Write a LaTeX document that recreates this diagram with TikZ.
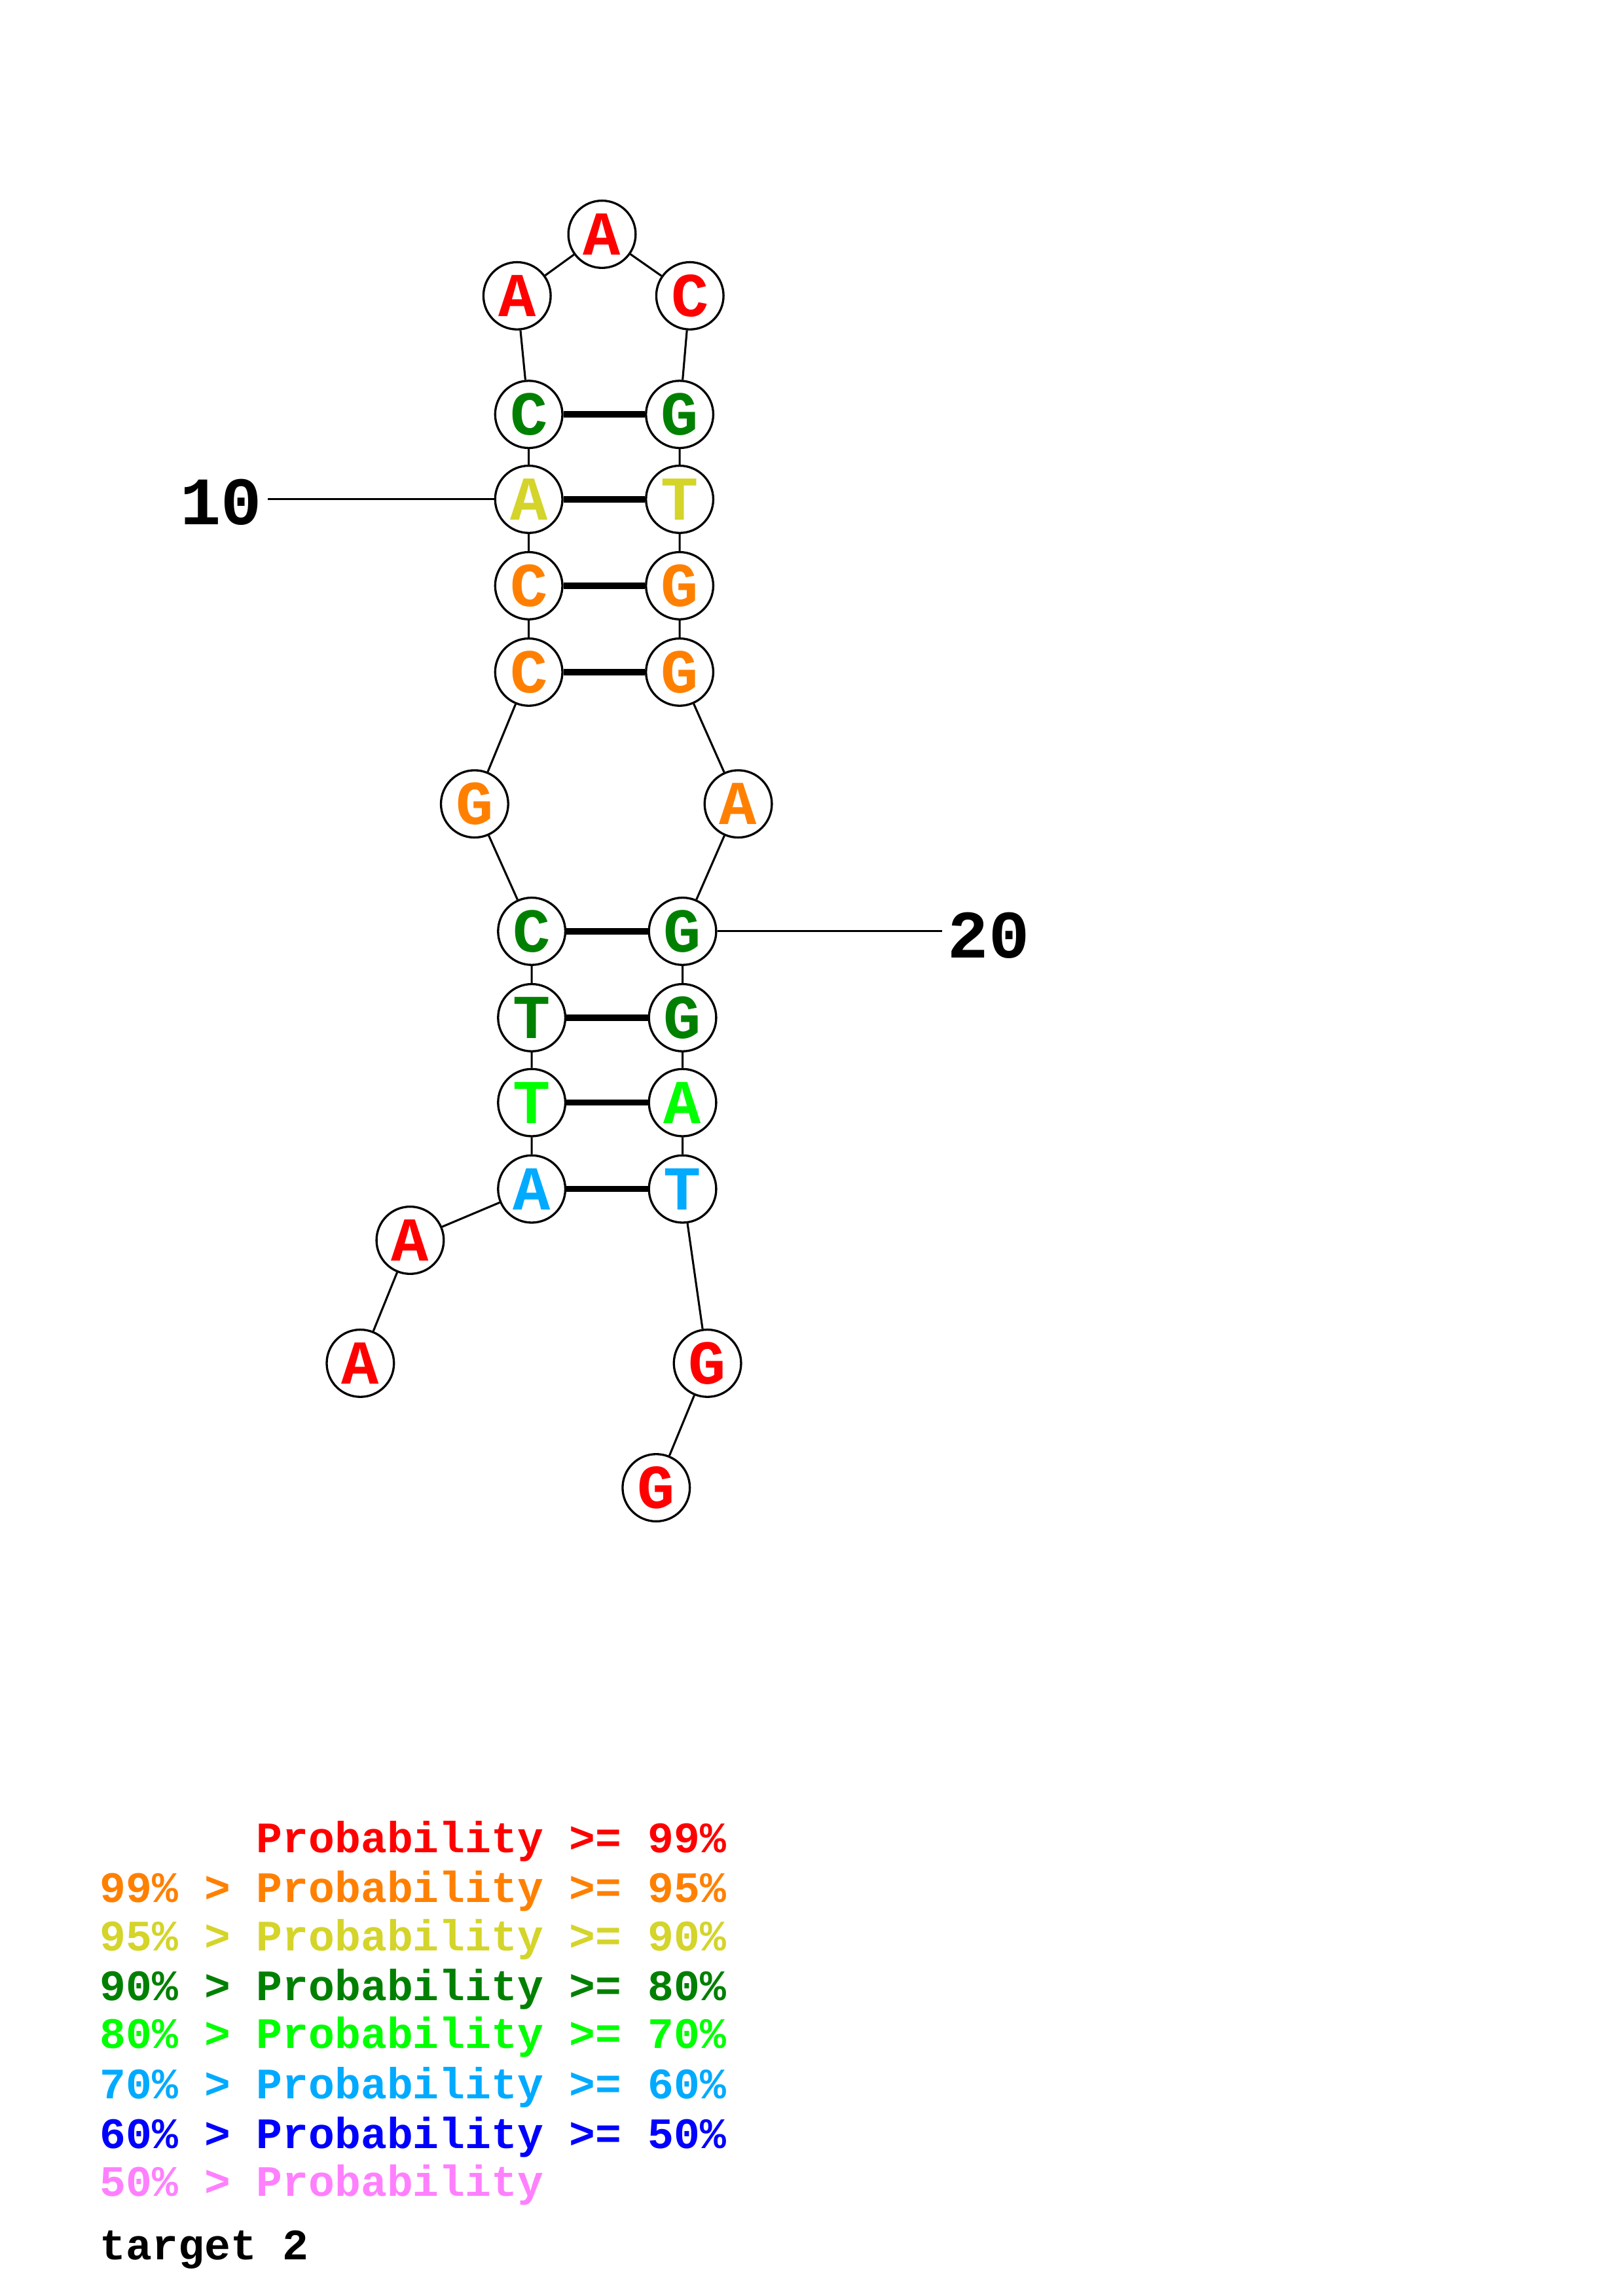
\documentclass[tikz,border=0pt]{standalone}
\usepackage{fontspec}
\setmonofont{Liberation Mono}
\usetikzlibrary{backgrounds}
\definecolor{pred}{RGB}{255,0,0}
\definecolor{porange}{RGB}{255,128,0}
\definecolor{pyellow}{RGB}{212,212,42}
\definecolor{pdgreen}{RGB}{0,128,0}
\definecolor{pgreen}{RGB}{0,255,0}
\definecolor{plblue}{RGB}{0,170,255}
\definecolor{pblue}{RGB}{0,0,255}
\definecolor{ppink}{RGB}{255,128,255}
\tikzset{
  nuc/.style={draw, circle, line width=0.8pt, fill=white, minimum size=0.87cm, inner sep=0pt,
    font=\ttfamily\bfseries\fontsize{23}{23}\selectfont},
  bb/.style={line width=0.75pt},
  bp/.style={line width=2.3pt},
  idx/.style={inner sep=2pt, font=\ttfamily\bfseries\fontsize{25}{25}\selectfont},
  key/.style={anchor=base west, inner sep=0pt, font=\ttfamily\bfseries\fontsize{16}{16}\selectfont},
}

\begin{document}
\begin{tikzpicture}[x=0.01895cm, y=-0.01895cm]
\useasboundingbox (0,0) rectangle (1108,1568);
% 5' strand
\node[nuc, text=pred] at (246,931) (b1) {A};
\node[nuc, text=pred] at (280,847) (b2) {A};
\node[nuc, text=plblue] at (363,812) (b3) {A};
\node[nuc, text=pgreen] at (363,753) (b4) {T};
\node[nuc, text=pdgreen] at (363,695) (b5) {T};
\node[nuc, text=pdgreen] at (363,636) (b6) {C};
\node[nuc, text=porange] at (324,549) (b7) {G};
\node[nuc, text=porange] at (361,459) (b8) {C};
\node[nuc, text=porange] at (361,400) (b9) {C};
\node[nuc, text=pyellow] at (361,341) (b10) {A};
\node[nuc, text=pdgreen] at (361,283) (b11) {C};
% hairpin loop
\node[nuc, text=pred] at (353,202) (b12) {A};
\node[nuc, text=pred] at (411,160) (b13) {A};
\node[nuc, text=pred] at (471,202) (b14) {C};
% 3' strand
\node[nuc, text=pdgreen] at (464,283) (b15) {G};
\node[nuc, text=pyellow] at (464,341) (b16) {T};
\node[nuc, text=porange] at (464,400) (b17) {G};
\node[nuc, text=porange] at (464,459) (b18) {G};
\node[nuc, text=porange] at (504,549) (b19) {A};
\node[nuc, text=pdgreen] at (466,636) (b20) {G};
\node[nuc, text=pdgreen] at (466,695) (b21) {G};
\node[nuc, text=pgreen] at (466,753) (b22) {A};
\node[nuc, text=plblue] at (466,812) (b23) {T};
\node[nuc, text=pred] at (483,931) (b24) {G};
\node[nuc, text=pred] at (448,1016) (b25) {G};
% position marks
\node[idx] at (151,343) (l10) {10};
\node[idx] at (675,639) (l20) {20};
\begin{scope}[on background layer]
\draw[bb] (b1) -- (b2) -- (b3) -- (b4) -- (b5) -- (b6) -- (b7) -- (b8) -- (b9) -- (b10) -- (b11) -- (b12) -- (b13);
\draw[bb] (b13) -- (b14) -- (b15) -- (b16) -- (b17) -- (b18) -- (b19) -- (b20) -- (b21) -- (b22) -- (b23) -- (b24) -- (b25);
\draw[bp] (b3) -- (b23);
\draw[bp] (b4) -- (b22);
\draw[bp] (b5) -- (b21);
\draw[bp] (b6) -- (b20);
\draw[bp] (b8) -- (b18);
\draw[bp] (b9) -- (b17);
\draw[bp] (b10) -- (b16);
\draw[bp] (b11) -- (b15);
\draw[bb] (b10) -- (b10 -| l10.east);
\draw[bb] (b20) -- (b20 -| l20.west);
\end{scope}
% legend
\node[key, text=pred] at (68,1265) (k1) {\hphantom{99\% > }Probability >= 99\%};
\node[key, text=porange] at (68,1299) (k2) {99\% > Probability >= 95\%};
\node[key, text=pyellow] at (68,1332) (k3) {95\% > Probability >= 90\%};
\node[key, text=pdgreen] at (68,1366) (k4) {90\% > Probability >= 80\%};
\node[key, text=pgreen] at (68,1399) (k5) {80\% > Probability >= 70\%};
\node[key, text=plblue] at (68,1433) (k6) {70\% > Probability >= 60\%};
\node[key, text=pblue] at (68,1467) (k7) {60\% > Probability >= 50\%};
\node[key, text=ppink] at (68,1500) (k8) {50\% > Probability};
\node[key] at (68,1543) (title) {target 2};
\end{tikzpicture}
\end{document}
